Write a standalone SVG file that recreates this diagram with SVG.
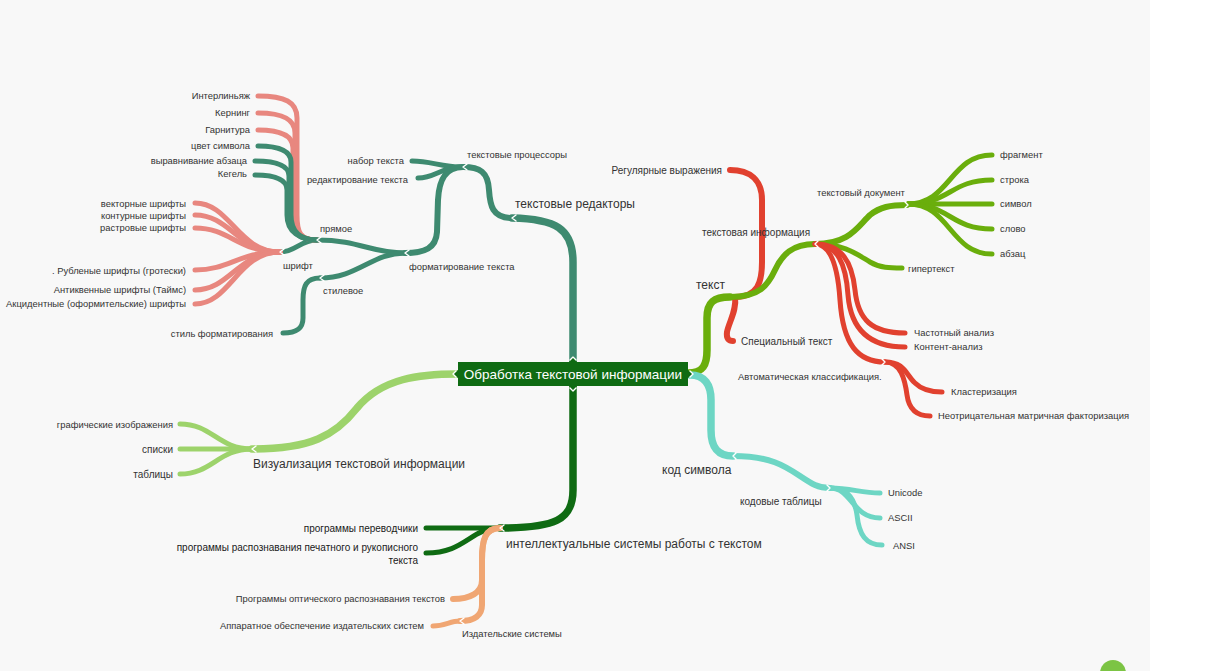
<svg xmlns="http://www.w3.org/2000/svg" width="1232" height="671" viewBox="0 0 1232 671">
<style>
.b{fill:none;stroke-linecap:round;stroke-linejoin:round}
.t1{stroke-width:7.5}
.t2{stroke-width:6}
.t3{stroke-width:5}
.dt{stroke:#3e8a70}
.pk{stroke:#e8877f}
.lm{stroke:#6aae0c}
.rd{stroke:#e1412f}
.tl{stroke:#6dd6c4}
.lg{stroke:#9dd36b}
.dg{stroke:#0f6b13}
.or{stroke:#f0a673}
.ch{fill:none;stroke:#ffffff;stroke-width:1.4;stroke-linecap:round;stroke-linejoin:round}
text{font-family:"Liberation Sans",Arial,sans-serif;fill:#333333;font-size:9.4px}
.r{text-anchor:end}
.m{font-size:12px}
.s{font-size:10px}
.k{fill:#1a1a1a;font-size:10px}
</style>
<rect x="0" y="0" width="1232" height="671" fill="#ffffff"/>
<rect x="0" y="0" width="1150" height="671" fill="#f8f8f8"/>
<circle cx="1113" cy="673" r="13" fill="#7cc444"/>

<g id="connectors">
  <path class="b t1 dt" d="M573,362 L573,262 C573,228 555,219 512,218"/>
  <path class="b t2 dt" d="M512,218 C492,218 490,205 489,190 C488,172 480,167 463,167"/>
  <path class="b t3 dt" d="M463,167 C440,167 432,161 412,161"/>
  <path class="b t3 dt" d="M463,167 C440,167 436,178 418,178"/>
  <path class="b t2 dt" d="M463,167 C445,167 439,180 438,200 L437,232 C436,248 425,253 405,253"/>
  <path class="b t3 dt" d="M405,253 C370,253 360,240 317,240"/>
  <path class="b t3 dt" d="M405,253 C372,253 358,278 320,278"/>
  <path class="b t3 dt" d="M320,278 C306,278 303,286 303,300 L303,318 C303,329 296,333 283,333"/>
  <path class="b t3 dt" d="M317,240 C300,240 296,252 280,252"/>
  <path class="b t3 pk" d="M317,240 C300,240 297,232 297,215 L297,118 C297,102 285,96 258,96"/>
  <path class="b t3 pk" d="M317,240 C300,240 295,232 295,215 L295,133 C295,119 283,113 258,113"/>
  <path class="b t3 pk" d="M317,240 C300,240 293,232 293,215 L293,148 C293,136 281,130 258,130"/>
  <path class="b t3 dt" d="M317,240 C300,240 291,232 291,215 L291,162 C291,151 279,146 258,146"/>
  <path class="b t3 dt" d="M317,240 C300,240 289,232 289,215 L289,176 C289,166 277,161 255,161"/>
  <path class="b t3 dt" d="M317,240 C300,240 287,232 287,215 L287,190 C287,180 275,175 255,175"/>
  <path class="b t3 pk" d="M280,252 C238,252 230,203 195,203"/>
  <path class="b t3 pk" d="M280,252 C238,252 230,215 195,215"/>
  <path class="b t3 pk" d="M280,252 C238,252 230,228 195,228"/>
  <path class="b t3 pk" d="M280,252 C238,252 230,270 195,270"/>
  <path class="b t3 pk" d="M280,252 C238,252 230,290 195,290"/>
  <path class="b t3 pk" d="M280,252 C238,252 230,304 195,304"/>

  <path class="b t1 lm" d="M688,373 C703,373 707,365 707,350 L707,318 C707,302 714,297 730,297"/>
  <path class="b t2 rd" d="M735,297 C758,297 762,282 762,262 L762,200 C762,180 750,170 730,170"/>
  <path class="b t2 rd" d="M735,297 C737,310 729,322 727,332 C726,339 729,341 733,341"/>
  <path class="b t2 lm" d="M730,297 C760,297 768,285 775,270 C782,255 792,244 815,244"/>
  <path class="b t2 lm" d="M815,244 C850,244 858,226 870,215 C880,207 890,205 907,205"/>
  <path class="b t3 lm" d="M815,244 C845,244 858,255 870,262 C880,268 890,268 902,268"/>
  <path class="b t3 lm" d="M908,204 C950,204 950,155 992,155"/>
  <path class="b t3 lm" d="M908,204 C950,204 950,180 992,180"/>
  <path class="b t3 lm" d="M908,204 L992,204"/>
  <path class="b t3 lm" d="M908,204 C950,204 950,229 992,229"/>
  <path class="b t3 lm" d="M908,204 C950,204 950,254 992,254"/>
  <path class="b t3 rd" d="M815,244 C842,244 852,262 855,290 C858,320 872,333 905,333"/>
  <path class="b t3 rd" d="M815,244 C838,244 846,265 848,295 C851,332 872,347 905,347"/>
  <path class="b t3 rd" d="M815,244 C832,244 838,270 840,300 C843,345 858,362 885,362"/>
  <path class="b t3 rd" d="M885,362 C905,362 906,375 915,383 C922,390 930,392 942,392"/>
  <path class="b t3 rd" d="M885,362 C901,362 905,380 907,395 C909,410 918,416 930,416"/>

  <path class="b t1 tl" d="M690,375 C705,375 711,385 711,400 L711,430 C711,448 718,456 733,456"/>
  <path class="b t2 tl" d="M733,456 C770,456 785,466 800,476 C812,484 818,488 830,488"/>
  <path class="b t3 tl" d="M830,488 C852,488 860,493 880,493"/>
  <path class="b t3 tl" d="M830,488 C852,488 852,518 880,518"/>
  <path class="b t3 tl" d="M830,488 C848,488 855,500 857,515 C859,535 866,545 882,545"/>

  <path class="b t1 lg" d="M458,374 C420,374 382,378 357,408 C335,436 310,449 252,449"/>
  <path class="b t3 lg" d="M252,449 C218,449 212,424 180,424"/>
  <path class="b t3 lg" d="M252,449 L180,449"/>
  <path class="b t3 lg" d="M252,449 C218,449 212,474 180,474"/>

  <path class="b t1 dg" d="M573,386 L573,490 C573,520 555,528 500,528"/>
  <path class="b t3 dg" d="M500,528 L426,528"/>
  <path class="b t3 dg" d="M500,528 C470,528 466,553 426,553"/>
  <path class="b t2 or" d="M500,528 C485,528 482,540 482,560 L482,580 C482,593 470,599 453,599"/>
  <path class="b t2 or" d="M500,528 C485,528 482,540 482,560 L482,605 C482,615 475,621 460,621"/>
  <path class="b t3 or" d="M460,621 C450,621 445,626 433,626"/>
</g>

<g id="chevrons">
  <path class="ch" d="M516,215 L512,218 L516,221"/>
  <path class="ch" d="M467,164 L463,167 L467,170"/>
  <path class="ch" d="M409,250 L405,253 L409,256"/>
  <path class="ch" d="M321,237 L317,240 L321,243"/>
  <path class="ch" d="M324,275 L320,278 L324,281"/>
  <path class="ch" d="M284,249 L280,252 L284,255"/>
  <path class="ch" d="M818,241 L815,244 L818,247"/>
  <path class="ch" d="M905,202 L908,205 L905,208"/>
  <path class="ch" d="M882,359 L885,362 L882,365"/>
  <path class="ch" d="M736,453 L733,456 L736,459"/>
  <path class="ch" d="M827,485 L830,488 L827,491"/>
  <path class="ch" d="M256,446 L252,449 L256,452"/>
  <path class="ch" d="M504,525 L500,528 L504,531"/>
  <path class="ch" d="M464,618 L460,621 L464,624"/>
</g>

<g id="center">
  <rect x="458" y="362" width="230" height="24" fill="#0f6b13"/>
  <path d="M569,362 L573,356 L577,362 Z M569,386 L573,392 L577,386 Z M458,370 L453,374 L458,378 Z M688,370 L693,374 L688,378 Z" fill="#0f6b13"/>
  <path class="ch" d="M570,360 L573,357 L576,360 M570,388 L573,391 L576,388 M456,371 L453,374 L456,377 M690,371 L693,374 L690,377"/>
  <text x="573" y="379" text-anchor="middle" style="font-size:13.5px;fill:#ffffff">Обработка текстовой информации</text>
</g>

<g id="n-editors"><text class="m" x="515" y="208">текстовые редакторы</text></g>
<g id="n-proc"><text x="467" y="158">текстовые процессоры</text></g>
<g id="n-nabor"><text class="r" x="404" y="164">набор текста</text></g>
<g id="n-red"><text class="r" x="408" y="183">редактирование текста</text></g>
<g id="n-format"><text x="409" y="270">форматирование текста</text></g>
<g id="n-pryamoe"><text x="320" y="232">прямое</text></g>
<g id="n-stil"><text x="323" y="294">стилевое</text></g>
<g id="n-stilf"><text class="r" x="273" y="337">стиль форматирования</text></g>
<g id="n-shrift"><text x="283" y="269">шрифт</text></g>
<g id="n-inter"><text class="r" x="250" y="99">Интерлиньяж</text></g>
<g id="n-kern"><text class="r" x="250" y="116">Кернинг</text></g>
<g id="n-garn"><text class="r" x="250" y="133">Гарнитура</text></g>
<g id="n-cvet"><text class="r" x="250" y="149">цвет символа</text></g>
<g id="n-vyr"><text class="r" x="247" y="164">выравнивание абзаца</text></g>
<g id="n-keg"><text class="r" x="247" y="177">Кегель</text></g>
<g id="n-vekt"><text class="r" x="186" y="207">векторные шрифты</text></g>
<g id="n-kont"><text class="r" x="186" y="219">контурные шрифты</text></g>
<g id="n-rastr"><text class="r" x="186" y="231">растровые шрифты</text></g>
<g id="n-rubl"><text class="r" x="186" y="274">. Рубленые шрифты (гротески)</text></g>
<g id="n-antik"><text class="r" x="186" y="293">Антиквенные шрифты (Таймс)</text></g>
<g id="n-akc"><text class="r" x="186" y="307">Акцидентные (оформительские) шрифты</text></g>

<g id="n-tekst"><text class="m" x="696" y="289">текст</text></g>
<g id="n-reg"><text class="r s" x="722" y="174">Регулярные выражения</text></g>
<g id="n-spec"><text class="s" x="741" y="345">Специальный текст</text></g>
<g id="n-tinfo"><text class="s" x="702" y="236">текстовая информация</text></g>
<g id="n-tdoc"><text x="817" y="196">текстовый документ</text></g>
<g id="n-giper"><text x="908" y="272">гипертекст</text></g>
<g id="n-frag"><text x="1000" y="158">фрагмент</text></g>
<g id="n-str"><text x="1000" y="183">строка</text></g>
<g id="n-sim"><text x="1000" y="207">символ</text></g>
<g id="n-slovo"><text x="1000" y="232">слово</text></g>
<g id="n-abz"><text x="1000" y="257">абзац</text></g>
<g id="n-chast"><text x="914" y="336">Частотный анализ</text></g>
<g id="n-kontent"><text x="914" y="350">Контент-анализ</text></g>
<g id="n-avto"><text x="738" y="380">Автоматическая классификация.</text></g>
<g id="n-klast"><text x="951" y="395">Кластеризация</text></g>
<g id="n-neotr"><text x="938" y="419">Неотрицательная матричная факторизация</text></g>

<g id="n-kod"><text class="m" x="662" y="474">код символа</text></g>
<g id="n-kodt"><text class="s" x="740" y="505">кодовые таблицы</text></g>
<g id="n-uni"><text x="888" y="496">Unicode</text></g>
<g id="n-ascii"><text x="888" y="521">ASCII</text></g>
<g id="n-ansi"><text x="893" y="549">ANSI</text></g>

<g id="n-viz"><text class="m" x="253" y="468">Визуализация текстовой информации</text></g>
<g id="n-graf"><text class="r" x="173" y="428">графические изображения</text></g>
<g id="n-spiski"><text class="r s" x="173" y="453">списки</text></g>
<g id="n-tabl"><text class="r s" x="173" y="478">таблицы</text></g>

<g id="n-intel"><text class="m" x="506" y="548">интеллектуальные системы работы с текстом</text></g>
<g id="n-perev"><text class="r k" x="418" y="532">программы переводчики</text></g>
<g id="n-rasp"><text class="r k" x="418" y="551">программы распознавания печатного и рукописного</text><text class="r k" x="418" y="564">текста</text></g>
<g id="n-izd"><text x="462" y="637">Издательские системы</text></g>
<g id="n-opt"><text class="r" x="445" y="602">Программы оптического распознавания текстов</text></g>
<g id="n-app"><text class="r" x="424" y="629">Аппаратное обеспечение издательских систем</text></g>
</svg>
